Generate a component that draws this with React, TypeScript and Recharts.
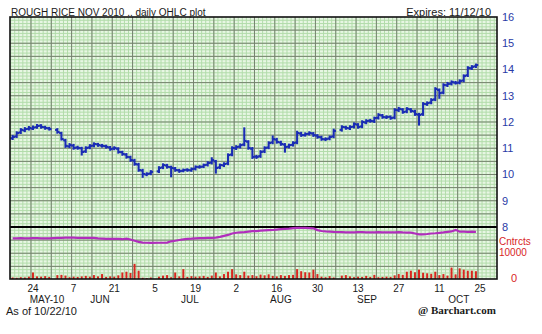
import React from "react";
import { ComposedChart, Bar, Line, XAxis, YAxis, CartesianGrid, ReferenceLine } from "recharts";

// Weekday index 0 = Mon 17 May 2010 ... 114 = Fri 22 Oct 2010 (null = exchange holiday)
const opens: (number | null)[] = [11.38, 11.45, 11.60, 11.68, 11.74, 11.75, 11.80, 11.86, 11.80, 11.76, null, 11.70, 11.58, 11.30, 11.07, 11.10, 11.03, 11.00, 10.88, 11.03, 11.10, 11.15, 11.10, 11.08, 11.03, 10.99, 10.98, 10.85, 10.76, 10.66, 10.53, 10.38, 10.15, 10.00, 10.04, null, 10.12, 10.27, 10.34, 10.28, 10.23, 10.16, 10.14, 10.18, 10.16, 10.22, 10.28, 10.30, 10.37, 10.45, 10.50, 10.27, 10.35, 10.42, 10.76, 11.00, 11.06, 11.14, 11.25, 10.98, 10.68, 10.70, 10.88, 11.03, 11.22, 11.33, 11.22, 11.14, 11.06, 11.13, 11.22, 11.56, 11.50, 11.55, 11.56, 11.48, 11.42, 11.34, 11.37, 11.45, null, 11.70, 11.80, 11.76, 11.82, 11.90, 11.83, 11.98, 12.05, 12.03, 12.16, 12.25, 12.18, 12.20, 12.17, 12.45, 12.48, 12.40, 12.48, 12.40, 12.28, 12.30, 12.68, 12.74, 12.86, 13.22, 13.12, 13.40, 13.46, 13.50, 13.50, 13.58, 13.78, 14.05, 14.12];
const highs: (number | null)[] = [11.48, 11.62, 11.74, 11.78, 11.82, 11.84, 11.90, 11.89, 11.83, 11.79, null, 11.74, 11.60, 11.33, 11.17, 11.14, 11.07, 11.03, 11.05, 11.13, 11.20, 11.18, 11.14, 11.11, 11.06, 11.05, 11.01, 10.88, 10.79, 10.69, 10.57, 10.42, 10.19, 10.06, 10.14, null, 10.29, 10.40, 10.38, 10.31, 10.26, 10.19, 10.20, 10.21, 10.24, 10.32, 10.33, 10.39, 10.48, 10.63, 10.53, 10.39, 10.44, 10.78, 11.05, 11.09, 11.16, 11.77, 11.28, 11.02, 10.72, 10.90, 11.05, 11.24, 11.46, 11.37, 11.26, 11.17, 11.15, 11.24, 11.64, 11.60, 11.58, 11.62, 11.59, 11.51, 11.45, 11.39, 11.46, 11.72, null, 11.85, 11.83, 11.85, 11.96, 11.93, 12.04, 12.08, 12.09, 12.18, 12.31, 12.28, 12.23, 12.22, 12.50, 12.55, 12.50, 12.54, 12.50, 12.44, 12.32, 12.73, 12.76, 12.88, 13.30, 13.25, 13.45, 13.50, 13.56, 13.54, 13.60, 13.79, 14.10, 14.14, 14.20];
const lows: (number | null)[] = [11.34, 11.42, 11.57, 11.64, 11.70, 11.72, 11.77, 11.77, 11.73, 11.70, null, 11.58, 11.32, 11.04, 11.03, 10.97, 10.97, 10.75, 10.85, 10.99, 11.06, 11.08, 11.05, 11.01, 10.93, 10.95, 10.82, 10.74, 10.63, 10.51, 10.36, 10.13, 9.90, 9.96, 10.00, null, 10.08, 10.23, 10.25, 9.92, 10.13, 10.09, 10.11, 10.13, 10.13, 10.18, 10.25, 10.27, 10.33, 10.41, 10.06, 10.23, 10.31, 10.38, 10.72, 10.96, 11.02, 11.10, 10.97, 10.62, 10.62, 10.66, 10.84, 10.99, 11.18, 11.20, 11.12, 10.86, 11.02, 11.09, 11.18, 11.46, 11.47, 11.51, 11.46, 11.39, 11.31, 11.30, 11.33, 11.41, null, 11.66, 11.73, 11.72, 11.78, 11.77, 11.79, 11.94, 12.00, 11.99, 12.12, 12.15, 12.14, 12.11, 12.13, 12.41, 12.34, 12.36, 12.38, 12.26, 11.89, 12.26, 12.64, 12.70, 12.82, 12.91, 13.08, 13.36, 13.42, 13.45, 13.46, 13.54, 13.74, 14.01, 14.08];
const closes: (number | null)[] = [11.43, 11.58, 11.70, 11.73, 11.77, 11.79, 11.85, 11.81, 11.77, 11.73, null, 11.62, 11.35, 11.09, 11.12, 11.01, 11.01, 10.86, 11.01, 11.09, 11.16, 11.12, 11.09, 11.05, 10.97, 11.01, 10.86, 10.78, 10.67, 10.55, 10.40, 10.17, 10.02, 10.02, 10.10, null, 10.25, 10.36, 10.29, 10.25, 10.17, 10.13, 10.17, 10.17, 10.21, 10.29, 10.29, 10.36, 10.44, 10.55, 10.25, 10.36, 10.40, 10.74, 11.01, 11.05, 11.12, 11.28, 11.01, 10.67, 10.67, 10.86, 11.01, 11.20, 11.35, 11.24, 11.16, 11.05, 11.12, 11.20, 11.58, 11.50, 11.54, 11.58, 11.50, 11.43, 11.35, 11.35, 11.43, 11.66, null, 11.81, 11.77, 11.81, 11.92, 11.81, 12.00, 12.04, 12.04, 12.15, 12.27, 12.19, 12.19, 12.15, 12.46, 12.50, 12.38, 12.50, 12.42, 12.30, 12.27, 12.69, 12.72, 12.84, 13.26, 13.10, 13.41, 13.45, 13.52, 13.49, 13.56, 13.75, 14.06, 14.10, 14.17];
const volumes: (number | null)[] = [600, 500, 700, 600, 900, 2500, 1000, 900, 1100, 800, null, 1500, 1600, 1300, 700, 900, 800, 1000, 1200, 900, 1500, 1000, 1900, 800, 1000, 900, 1400, 2500, 2800, 2300, 5800, 3200, 500, 400, 600, null, 900, 1300, 1500, 700, 2500, 1000, 3800, 800, 1100, 900, 1000, 1200, 800, 1300, 2500, 1000, 1900, 2800, 3800, 1800, 1500, 2800, 1300, 1500, 1100, 1700, 1400, 1800, 1200, 1000, 1500, 1200, 1500, 1600, 3800, 3000, 2600, 2500, 3600, 1900, 900, 700, 1100, 600, null, 1300, 1500, 1000, 700, 900, 800, 1200, 800, 1600, 700, 800, 900, 800, 1400, 1900, 1600, 2800, 3200, 2600, 3600, 2400, 2200, 2000, 2800, 1500, 1900, 1300, 4400, 1800, 4100, 3600, 3200, 3200, 3000];
const openInterest: (number | null)[] = [15600, 15650, 15700, 15650, 15650, 15700, 15700, 15650, 15650, 15600, null, 15800, 15850, 15900, 15900, 15900, 15850, 15850, 15800, 15850, 15800, 15600, 15500, 15400, 15400, 15450, 15400, 15300, 15500, 15200, 14700, 14300, 14000, 13950, 13900, null, 13950, 13950, 14000, 14500, 14700, 15000, 15250, 15400, 15500, 15650, 15700, 15750, 15800, 15850, 15900, 16200, 16600, 16950, 17500, 17800, 17950, 18000, 18200, 18400, 18450, 18600, 18700, 18800, 18850, 19000, 19150, 19300, 19400, 19600, 19700, 19700, 19650, 19600, 19500, 18800, 18450, 18300, 18200, 18100, null, 18000, 17950, 17900, 17950, 18000, 18050, 17950, 17900, 17950, 18000, 17950, 17900, 17950, 17950, 18000, 17900, 17850, 17800, 17500, 17200, 17200, 17300, 17500, 17600, 17750, 17900, 18100, 18300, 18900, 18200, 18200, 18150, 18200, 18150];

const dayTickValues = [5, 15, 25, 35, 45, 55, 65, 75, 85, 95, 105, 115];
const dayTickLabels = ["24", "7", "21", "5", "19", "2", "16", "30", "13", "27", "11", "25"];
const monthTickValues = [8.45, 21.5, 43.6, 66, 87.2, 109.8];
const monthTickLabels = ["MAY-10", "JUN", "JUL", "AUG", "SEP", "OCT"];
const priceTicks = [8, 9, 10, 11, 12, 13, 14, 15, 16];

// ---- layout / styles ----
const W = 542;
const H = 334;
const PLOT_LEFT = 10;
const PLOT_RIGHT = 497;
const PLOT_TOP = 17;
const PLOT_BOTTOM = 279;
const X_DOMAIN: [number, number] = [-0.66, 119.18];
const PRICE_DOMAIN: [number, number] = [6.019, 16];
const VOL_DOMAIN: [number, number] = [0, 100770];
const FONT = "'Liberation Sans', Arial, Helvetica, sans-serif";
const PRICE_COLOR = "#1b2db4";

const xPix = (v: number) =>
  PLOT_LEFT + ((v - X_DOMAIN[0]) / (X_DOMAIN[1] - X_DOMAIN[0])) * (PLOT_RIGHT - PLOT_LEFT);
const yPix = (p: number) =>
  PLOT_TOP + ((PRICE_DOMAIN[1] - p) / (PRICE_DOMAIN[1] - PRICE_DOMAIN[0])) * (PLOT_BOTTOM - PLOT_TOP);

const minorV: number[] = [];
for (let k = 0; k <= 119; k++) minorV.push(xPix(k - 0.5));
const majorV: number[] = [];
for (let k = 4.5; k < 119; k += 5) majorV.push(xPix(k));
const minorH: number[] = [];
for (let p = 6.125; p < 16; p += 0.125) minorH.push(yPix(p));
const majorH: number[] = [];
for (let p = 6.5; p < 16; p += 0.5) majorH.push(yPix(p));

const rows = closes.map((c, i) => ({
  day: i,
  open: opens[i],
  high: highs[i],
  low: lows[i],
  close: c,
  range: c == null ? null : [lows[i], highs[i]],
  volume: volumes[i],
  oi: openInterest[i],
}));

const OhlcShape = (props: any) => {
  const { x, y, width, height, payload } = props;
  if (!payload || payload.high == null || payload.low == null) return null;
  if (x == null || y == null || isNaN(x) || isNaN(y)) return null;
  const top = Math.min(y, y + height);
  const bottom = Math.max(y, y + height);
  const span = payload.high - payload.low;
  const toY = (v: number) => (span > 0 ? bottom - ((v - payload.low) / span) * (bottom - top) : top);
  const cx = x + width / 2;
  return (
    <g stroke={PRICE_COLOR} strokeWidth={2.1} fill="none">
      <line x1={cx} x2={cx} y1={top - 0.7} y2={bottom + 0.7} />
      <line x1={x - 0.3} x2={cx} y1={toY(payload.open)} y2={toY(payload.open)} />
      <line x1={cx} x2={x + width + 0.3} y1={toY(payload.close)} y2={toY(payload.close)} />
    </g>
  );
};

const DayTick = (props: any) => {
  const { x, y, payload } = props;
  const idx = dayTickValues.indexOf(payload.value);
  return (
    <text x={x} y={y + 12.5} textAnchor="middle" fontSize={10} fontFamily={FONT} fill="#1a1a1a">
      {idx >= 0 ? dayTickLabels[idx] : ""}
    </text>
  );
};

const MonthTick = (props: any) => {
  const { x, y, payload } = props;
  const idx = monthTickValues.indexOf(payload.value);
  return (
    <text x={x} y={y + 10.5} textAnchor="middle" fontSize={10} fontFamily={FONT} fill="#1a1a1a">
      {idx >= 0 ? monthTickLabels[idx] : ""}
    </text>
  );
};

const PriceTick = (props: any) => {
  const { x, y, payload } = props;
  return (
    <text x={x + 5} y={y + 4} textAnchor="start" fontSize={11} fontFamily={FONT} fill="#2a3aa6">
      {payload.value}
    </text>
  );
};

export default function App() {
  return (
    <div style={{ position: "absolute", left: 0, top: 0, width: W, height: H, background: "#ffffff" }}>
      <div style={{ position: "absolute", left: 0, top: 0 }}>
        <ComposedChart width={W} height={H} data={rows} margin={{ top: 17, right: 0, bottom: 32, left: 10 }}>
          <CartesianGrid
            horizontalPoints={minorH}
            verticalPoints={minorV}
            stroke="#b2dcaa"
            strokeWidth={1}
            fill="#e7f6e3"
          />
          <CartesianGrid horizontalPoints={majorH} verticalPoints={majorV} stroke="#76826f" strokeWidth={1} />
          <XAxis
            dataKey="day"
            type="number"
            domain={X_DOMAIN}
            allowDataOverflow
            ticks={dayTickValues}
            interval={0}
            tick={(p: any) => <DayTick {...p} />}
            tickLine={false}
            axisLine={false}
            tickSize={0}
            tickMargin={0}
            height={13}
          />
          <XAxis
            xAxisId="m"
            dataKey="day"
            type="number"
            domain={X_DOMAIN}
            allowDataOverflow
            ticks={monthTickValues}
            interval={0}
            tick={(p: any) => <MonthTick {...p} />}
            tickLine={false}
            axisLine={false}
            tickSize={0}
            tickMargin={0}
            height={10}
          />
          <YAxis
            orientation="right"
            type="number"
            domain={PRICE_DOMAIN}
            allowDataOverflow
            ticks={priceTicks}
            interval={0}
            tick={(p: any) => <PriceTick {...p} />}
            tickLine={false}
            axisLine={false}
            tickSize={0}
            tickMargin={0}
            width={45}
          />
          <ReferenceLine y={8} stroke="#000000" strokeWidth={2} />
          <Bar dataKey="range" barSize={4} shape={OhlcShape} isAnimationActive={false} />
        </ComposedChart>
      </div>
      <div style={{ position: "absolute", left: 0, top: 0 }}>
        <ComposedChart width={W} height={H} data={rows} margin={{ top: 17, right: 45, bottom: 55, left: 10 }}>
          <XAxis dataKey="day" type="number" domain={X_DOMAIN} allowDataOverflow hide />
          <YAxis type="number" domain={VOL_DOMAIN} allowDataOverflow hide />
          <Bar dataKey="volume" barSize={2} fill="#d8261f" isAnimationActive={false} />
          <Line
            type="linear"
            dataKey="oi"
            stroke="#b02ebc"
            strokeWidth={2.2}
            dot={false}
            connectNulls
            isAnimationActive={false}
          />
        </ComposedChart>
      </div>
      <svg
        width={W}
        height={H}
        style={{ position: "absolute", left: 0, top: 0, pointerEvents: "none" }}
      >
        <rect
          x={PLOT_LEFT}
          y={PLOT_TOP}
          width={PLOT_RIGHT - PLOT_LEFT}
          height={PLOT_BOTTOM - PLOT_TOP}
          fill="none"
          stroke="#111111"
          strokeWidth={1.6}
        />
        <text x={11} y={15.5} fontSize={10} fontFamily={FONT} fill="#1a1a1a">
          ROUGH RICE NOV 2010 .. daily OHLC plot
        </text>
        <text x={491} y={15.5} fontSize={11} fontFamily={FONT} fill="#1a1a1a" textAnchor="end">
          Expires: 11/12/10
        </text>
        <text x={499} y={245} fontSize={10} fontFamily={FONT} fill="#d8261f">
          Cntrcts
        </text>
        <text x={499} y={256} fontSize={10} fontFamily={FONT} fill="#d8261f">
          10000
        </text>
        <text x={511} y={281.5} fontSize={11} fontFamily={FONT} fill="#d8261f">
          0
        </text>
        <text x={6} y={315} fontSize={11} fontFamily={FONT} fill="#1a1a1a">
          As of 10/22/10
        </text>
        <text
          x={418}
          y={314}
          fontSize={11}
          fontWeight="bold"
          fontFamily="'Liberation Serif', 'Times New Roman', serif"
          fill="#1a1a1a"
        >
          @ Barchart.com
        </text>
      </svg>
    </div>
  );
}
